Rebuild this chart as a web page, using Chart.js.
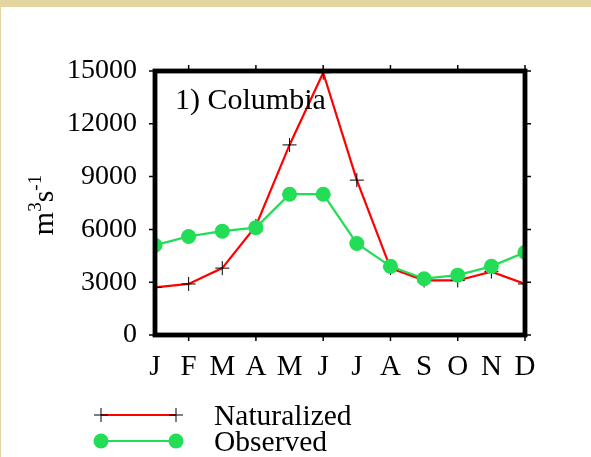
<!DOCTYPE html>
<html>
<head>
<meta charset="utf-8">
<script src="https://cdn.jsdelivr.net/npm/chart.js@4.4.1/dist/chart.umd.min.js"></script>
<style>
  html, body { margin: 0; padding: 0; background: #ffffff; }
  body { width: 591px; height: 457px; position: relative; overflow: hidden; }
  #band { position: absolute; left: 0; top: 0; width: 591px; height: 7px; background: #e2d5a0; }
  #edge { position: absolute; left: 0; top: 0; width: 1px; height: 457px; background: #e2d5a0; }
  #chart { position: absolute; left: 0; top: 0; }
</style>
</head>
<body>
<div id="band"></div>
<div id="edge"></div>
<canvas id="chart" width="591" height="457"></canvas>
<script>
// Monthly mean discharge, Columbia River (m3/s)
const months = ['J', 'F', 'M', 'A', 'M', 'J', 'J', 'A', 'S', 'O', 'N', 'D'];
const naturalized = [2700, 2900, 3800, 6200, 10800, 14900, 8800, 3800, 3100, 3100, 3600, 2900];
const observed = [5100, 5600, 5900, 6100, 8000, 8000, 5200, 3900, 3200, 3400, 3900, 4700];
const yTicks = [0, 3000, 6000, 9000, 12000, 15000];
const seriesNames = ['Naturalized', 'Observed'];
const panelTitle = '1) Columbia';

const SERIF = '"Liberation Serif", "DejaVu Serif", serif';
const RED = '#ff0000';
const GREEN = '#22dd55';

// Frame, outward tick marks, axis title, panel label and legend
const decorations = {
  id: 'decorations',
  afterDatasetsDraw(chart) {
    const ctx = chart.ctx;
    const a = chart.chartArea;
    const xs = chart.scales.x;
    const ys = chart.scales.y;
    ctx.save();

    // box frame
    ctx.strokeStyle = '#000';
    ctx.lineWidth = 4.8;
    ctx.lineJoin = 'miter';
    ctx.strokeRect(a.left, a.top, a.right - a.left, a.bottom - a.top);

    // small outward ticks
    ctx.lineWidth = 1.5;
    ctx.beginPath();
    months.forEach((m, i) => {
      if (i % 2 === 1) {
        const px = xs.getPixelForValue(i);
        ctx.moveTo(px, a.top - 2); ctx.lineTo(px, a.top - 6);
        ctx.moveTo(px, a.bottom + 2); ctx.lineTo(px, a.bottom + 6);
      }
    });
    yTicks.forEach(v => {
      const py = ys.getPixelForValue(v);
      ctx.moveTo(a.left - 2, py); ctx.lineTo(a.left - 6, py);
      ctx.moveTo(a.right + 2, py); ctx.lineTo(a.right + 6, py);
    });
    ctx.stroke();

    // panel label
    ctx.fillStyle = '#000';
    ctx.font = '30px ' + SERIF;
    ctx.textBaseline = 'alphabetic';
    ctx.textAlign = 'left';
    ctx.fillText(panelTitle, a.left + 20, a.top + 38);

    // y-axis title: m3 s-1 with superscripts
    ctx.save();
    ctx.translate(53, 205);
    ctx.rotate(-Math.PI / 2);
    const big = '30px ' + SERIF, small = '19px ' + SERIF;
    const parts = [['m', big, 0], ['3', small, -12], ['s', big, 0], ['-1', small, -12]];
    let total = 0;
    parts.forEach(p => { ctx.font = p[1]; total += ctx.measureText(p[0]).width; });
    let cx = -total / 2;
    parts.forEach(p => {
      ctx.font = p[1];
      ctx.fillText(p[0], cx, p[2]);
      cx += ctx.measureText(p[0]).width;
    });
    ctx.restore();

    // legend
    const x0 = 101, x1 = 176, tx = 214;
    const rows = [415, 441];
    chart.data.datasets.forEach((ds, i) => {
      const y = rows[i];
      ctx.strokeStyle = ds.borderColor;
      ctx.lineWidth = ds.borderWidth;
      ctx.beginPath(); ctx.moveTo(x0, y); ctx.lineTo(x1, y); ctx.stroke();
      [x0, x1].forEach(px => {
        if (ds.pointStyle === 'cross') {
          ctx.strokeStyle = '#000';
          ctx.lineWidth = 1;
          ctx.beginPath();
          ctx.moveTo(px - 7, y); ctx.lineTo(px + 7, y);
          ctx.moveTo(px, y - 7); ctx.lineTo(px, y + 7);
          ctx.stroke();
        } else {
          ctx.fillStyle = ds.pointBackgroundColor;
          ctx.beginPath(); ctx.arc(px, y, ds.pointRadius, 0, Math.PI * 2); ctx.fill();
        }
      });
      ctx.fillStyle = '#000';
      ctx.font = '29.5px ' + SERIF;
      ctx.textAlign = 'left';
      ctx.textBaseline = 'alphabetic';
      ctx.fillText(ds.label, tx, y + 10);
    });

    ctx.restore();
  }
};

new Chart(document.getElementById('chart'), {
  type: 'line',
  data: {
    labels: months,
    datasets: [
      {
        label: seriesNames[0],
        data: naturalized,
        borderColor: RED,
        borderWidth: 2.2,
        pointStyle: 'cross',
        pointRadius: 7,
        pointBorderColor: '#000',
        pointBorderWidth: 1,
        pointBackgroundColor: '#000',
        tension: 0,
        clip: 0,
        order: 1
      },
      {
        label: seriesNames[1],
        data: observed,
        borderColor: GREEN,
        borderWidth: 2.2,
        pointStyle: 'circle',
        pointRadius: 7.5,
        pointBorderWidth: 0,
        pointBackgroundColor: GREEN,
        pointBorderColor: GREEN,
        tension: 0,
        clip: 0,
        order: 0
      }
    ]
  },
  options: {
    responsive: false,
    animation: false,
    events: [],
    layout: { padding: { left: 0, right: 66, top: 71, bottom: 0 } },
    plugins: { legend: { display: false }, tooltip: { enabled: false } },
    scales: {
      x: {
        type: 'category',
        offset: false,
        grid: { display: false },
        border: { display: false },
        ticks: {
          color: '#000',
          font: { family: SERIF, size: 29 },
          padding: 7,
          maxRotation: 0,
          autoSkip: false
        },
        afterFit(scale) { scale.height = 122; }
      },
      y: {
        min: 0,
        max: 15000,
        grid: { display: false },
        border: { display: false },
        afterBuildTicks(scale) { scale.ticks = yTicks.map(v => ({ value: v })); },
        ticks: {
          color: '#000',
          font: { family: SERIF, size: 28 },
          padding: 10,
          callback: v => String(v)
        },
        afterFit(scale) { scale.width = 155; }
      }
    }
  },
  plugins: [decorations]
});
</script>
</body>
</html>
